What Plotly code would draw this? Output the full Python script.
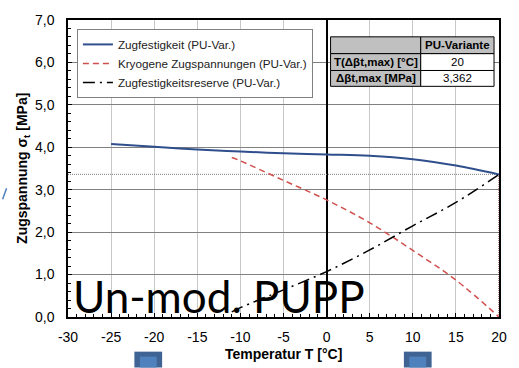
import plotly.graph_objects as go

# ---- data ----
temps = [-25, -20, -15, -10, -5, 0, 5, 10, 15, 20]
zugfestigkeit = [4.08, 4.01, 3.95, 3.90, 3.86, 3.83, 3.80, 3.72, 3.57, 3.36]

temps_kryo = [-11, -10, -5, 0, 5, 10, 15, 20]
kryogene = [3.76, 3.68, 3.22, 2.76, 2.22, 1.57, 0.87, 0.0]

temps_res = [-11, -10, -5, 0, 5, 10, 15, 20]
reserve = [0.12, 0.22, 0.64, 1.07, 1.58, 2.15, 2.70, 3.36]

t_max = 20
delta_max = 3.362
table_header = ["", "PU-Variante"]
table_rows = [["T(Δβt,max) [°C]", "20"], ["Δβt,max [MPa]", "3,362"]]

x_ticks = [-30, -25, -20, -15, -10, -5, 0, 5, 10, 15, 20]
x_tick_labels = ["-30", "-25", "-20", "-15", "-10", "-5", "0", "5", "10", "15", "20"]
y_ticks = [0, 1, 2, 3, 4, 5, 6, 7]
y_tick_labels = ["0,0", "1,0", "2,0", "3,0", "4,0", "5,0", "6,0", "7,0"]

W, H = 519, 368
L, R, T, B = 68, 503, 17, 317
FONT = "Arial, Liberation Sans, sans-serif"


def px(x):
    return (x - L) / (R - L)


def py(y):
    return (B - y) / (B - T)


fig = go.Figure()

# reference lines
fig.add_trace(go.Scatter(x=[-30, 20], y=[delta_max, delta_max], mode="lines",
                         line=dict(color="#7f7f7f", width=1, dash="1px,1px"),
                         showlegend=False, hoverinfo="skip"))
fig.add_trace(go.Scatter(x=[t_max, t_max], y=[0, delta_max], mode="lines",
                         line=dict(color="#8b1a1a", width=1, dash="1px,1px"),
                         showlegend=False, hoverinfo="skip"))

fig.add_trace(go.Scatter(x=temps, y=zugfestigkeit, mode="lines",
                         name="Zugfestigkeit (PU-Var.)", legendgroup="a",
                         line=dict(color="#2f4f8c", width=2, shape="spline")))
fig.add_trace(go.Scatter(x=temps_kryo, y=kryogene, mode="lines",
                         name="Kryogene Zugspannungen (PU-Var.)", legendgroup="b",
                         line=dict(color="#d0504d", width=1.5, dash="6px,4px", shape="spline")))
fig.add_trace(go.Scatter(x=temps_res, y=reserve, mode="lines",
                         name="Zugfestigkeitsreserve (PU-Var.)", legendgroup="c",
                         line=dict(color="#000000", width=1.5, dash="12px,5px,2px,5px", shape="spline")))

shapes = []
annotations = []

# table
tl, tm, tr = px(333), px(424), px(498)
rows_y = [py(34), py(51), py(68), py(84)]
for r in range(3):
    for c in range(2):
        x0, x1 = (tl, tm) if c == 0 else (tm, tr)
        fill = "#c0c0c0" if (r == 0 or c == 0) else "#ffffff"
        shapes.append(dict(type="rect", xref="paper", yref="paper",
                           x0=x0, x1=x1, y0=rows_y[r + 1], y1=rows_y[r],
                           fillcolor=fill, line=dict(color="#000000", width=1),
                           layer="above"))
        txt = table_header[c] if r == 0 else table_rows[r - 1][c]
        if txt:
            bold = (r == 0 or c == 0)
            annotations.append(dict(xref="paper", yref="paper",
                                    x=(x0 + x1) / 2, y=(rows_y[r] + rows_y[r + 1]) / 2,
                                    xanchor="center", yanchor="middle",
                                    text=f"<b>{txt}</b>" if bold else txt,
                                    showarrow=False,
                                    font=dict(family=FONT, size=11.5, color="#000")))

# big overlay text
annotations.append(dict(xref="paper", yref="paper", x=px(71), y=py(296),
                        xanchor="left", yanchor="middle", text="Un-mod. PUPP",
                        showarrow=False,
                        font=dict(family="Lato", size=44, color="#000")))

# axis titles
annotations.append(dict(xref="paper", yref="paper", x=px(286), y=py(354),
                        xanchor="center", yanchor="middle",
                        text="<b>Temperatur T [°C]</b>", showarrow=False,
                        font=dict(family=FONT, size=14, color="#000")))
annotations.append(dict(xref="paper", yref="paper", x=px(22), y=py(167),
                        xanchor="center", yanchor="middle", textangle=-90,
                        text="<b>Zugspannung σ<sub>t</sub> [MPa]</b>", showarrow=False,
                        font=dict(family=FONT, size=14, color="#000")))

# decorative blue squares and slash outside plot
for x0, x1 in [(135, 163), (407, 435)]:
    shapes.append(dict(type="rect", xref="paper", yref="paper",
                       x0=px(x0), x1=px(x1), y0=py(368), y1=py(352),
                       fillcolor="#3f6494", line=dict(width=0), layer="above"))
    shapes.append(dict(type="rect", xref="paper", yref="paper",
                       x0=px(x0 + 5.5), x1=px(x1 - 5.5), y0=py(368), y1=py(357),
                       fillcolor="#4f81bd", line=dict(width=0), layer="above"))
shapes.append(dict(type="line", xref="paper", yref="paper",
                   x0=px(2), y0=py(198), x1=px(6), y1=py(187),
                   line=dict(color="#4f81bd", width=1.5), layer="above"))

fig.update_layout(
    width=W, height=H,
    margin=dict(l=L, r=W - R, t=T, b=H - B, pad=0),
    paper_bgcolor="white", plot_bgcolor="white",
    font=dict(family=FONT, size=12, color="#000"),
    shapes=shapes, annotations=annotations,
    legend=dict(x=px(77), y=py(26), xanchor="left", yanchor="top",
                bgcolor="white", bordercolor="#808080", borderwidth=1,
                font=dict(family=FONT, size=11.7, color="#222"), tracegroupgap=9,
                traceorder="normal"),
)

fig.update_xaxes(range=[-30, 20], tickvals=x_ticks, ticktext=x_tick_labels,
                 ticks="inside", ticklen=4, ticklabelstandoff=6,
                 tickcolor="#000", showgrid=True, gridcolor="#c8c8c8", gridwidth=1,
                 showline=True, linecolor="#000", linewidth=1.5, mirror=True,
                 zeroline=True, zerolinecolor="#000", zerolinewidth=1.5,
                 minor=dict(dtick=1, ticks="inside", ticklen=3, tickcolor="#000", showgrid=False),
                 tickfont=dict(family=FONT, size=14))
fig.update_yaxes(range=[0, 7], tickvals=y_ticks, ticktext=y_tick_labels,
                 ticks="inside", ticklen=4, ticklabelstandoff=9,
                 tickcolor="#000", showgrid=True, gridcolor="#808080", gridwidth=1,
                 showline=True, linecolor="#000", linewidth=1.5, mirror=True,
                 zeroline=False,
                 minor=dict(dtick=0.2, ticks="inside", ticklen=3, tickcolor="#000", showgrid=False),
                 tickfont=dict(family=FONT, size=14))

fig.write_html("out.html")
